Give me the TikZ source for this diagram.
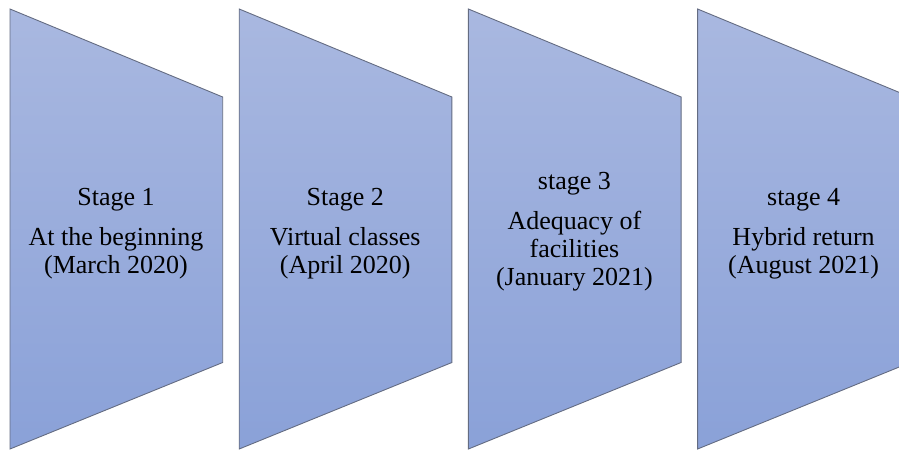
\documentclass[tikz,border=0pt]{standalone}
\usepackage{fontspec}
\setmainfont{Liberation Serif}
\begin{document}
\begin{tikzpicture}[x=1pt,y=-1pt,
  panel/.style={draw=panelline,line width=0.9pt,line join=miter,top color=paneltop,bottom color=panelbottom},
  label/.style={align=center,text=black,font=\fontsize{26}{28}\selectfont,inner sep=0pt}]
\definecolor{paneltop}{HTML}{A9B8E0}
\definecolor{panelbottom}{HTML}{8AA1D8}
\definecolor{panelline}{HTML}{646C82}
\useasboundingbox (0,0) rectangle (899,450);
\begin{scope}
\clip (0,0) rectangle (899,450);
% four stage panels, each narrowing to the right
\foreach \l in {10,239.2,468.4,697.6}{
  \path[panel] (\l,9) -- (\l+212.7,97) -- (\l+212.7,362.5) -- (\l,449) -- cycle;
}
\end{scope}
\node[label] (s1) at (116,233.5) {Stage 1\\[12pt]At the beginning\\(March 2020)};
\node[label] (s2) at (345.2,233.5) {Stage 2\\[12pt]Virtual classes\\(April 2020)};
\node[label] (s3) at (574.4,232) {stage 3\\[12pt]Adequacy of\\facilities\\(January 2021)};
\node[label] (s4) at (803.6,233.5) {stage 4\\[12pt]Hybrid return\\(August 2021)};
\end{tikzpicture}
\end{document}
